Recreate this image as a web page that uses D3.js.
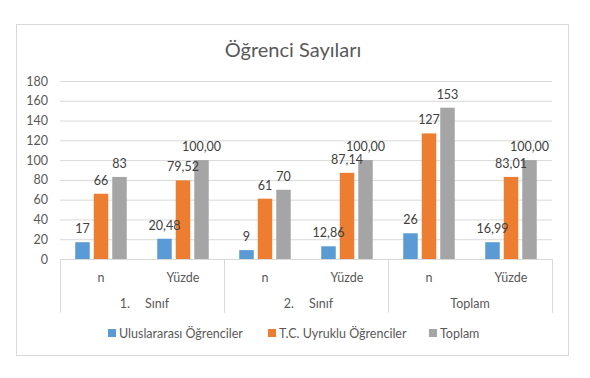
<!DOCTYPE html>
<html>
<head>
<meta charset="utf-8">
<script src="https://cdn.jsdelivr.net/npm/d3@7"></script>
<style>
  body { margin: 0; background: #fff; }
  svg { font-family: Lato, "Open Sans", sans-serif; }
</style>
</head>
<body>
<svg id="chart" width="590" height="378"></svg>
<script>
// data
const groups = ["1. Sınıf", "2. Sınıf", "Toplam"]
const subs = ["n", "Yüzde"]
const seriesNames = ["Uluslararası Öğrenciler", "T.C. Uyruklu Öğrenciler", "Toplam"]
const colors = ["#5B9BD5", "#ED7D31", "#A5A5A5"]
const intl = [17, 20.48, 9, 12.86, 26, 16.99]
const tc = [66, 79.52, 61, 87.14, 127, 83.01]
const total = [83, 100, 70, 100, 153, 100]
const yTicks = [0, 20, 40, 60, 80, 100, 120, 140, 160, 180]

const svg = d3.select("#chart")
const textColor = "#595959"
const gridColor = "#D9D9D9"

// outer frame
svg.append("rect")
  .attr("x", 16.5).attr("y", 24.5)
  .attr("width", 552).attr("height", 331)
  .attr("fill", "#fff").attr("stroke", gridColor)

svg.append("text")
  .attr("x", 293).attr("y", 57)
  .attr("text-anchor", "middle")
  .attr("font-size", 20)
  .attr("fill", textColor)
  .text("Öğrenci Sayıları")

const plotLeft = 60, plotRight = 552, plotTop = 81, plotBottom = 259

// one slot per (group, sub) pair
const slots = []
groups.forEach(g => subs.forEach(s => slots.push(g + "|" + s)))

const x = d3.scaleBand().domain(slots).range([plotLeft, plotRight])
const xg = d3.scaleBand().domain(groups).range([plotLeft, plotRight])
const xs = d3.scaleBand().domain(d3.range(3)).range([0, x.bandwidth()])
  .paddingInner(0.216).paddingOuter(0.824)
const y = d3.scaleLinear().domain([0, 180]).range([plotBottom, plotTop])

// grid
svg.append("g")
  .attr("transform", "translate(" + plotLeft + ",0)")
  .call(d3.axisLeft(y).tickValues(yTicks).tickSize(-(plotRight - plotLeft)).tickFormat(""))
  .call(g => g.select(".domain").remove())
  .selectAll("line").attr("stroke", gridColor)

// y tick labels
svg.append("g")
  .attr("transform", "translate(" + (plotLeft - 12) + ",0)")
  .call(d3.axisLeft(y).tickValues(yTicks).tickSize(0).tickPadding(0))
  .call(g => g.select(".domain").remove())
  .selectAll("text")
    .attr("font-size", 12.5)
    .attr("font-family", "Lato, sans-serif")
    .attr("fill", textColor)

// bars first, then all labels on top
const series = [intl, tc, total]
const barLayer = svg.append("g")
const labelLayer = svg.append("g")
series.forEach((vals, si) => {
  barLayer.append("g").selectAll("rect")
    .data(vals)
    .enter()
    .append("rect")
      .attr("x", (d, i) => x(slots[i]) + xs(si))
      .attr("y", d => y(d))
      .attr("width", xs.bandwidth())
      .attr("height", d => plotBottom - y(d))
      .attr("fill", colors[si])

  labelLayer.append("g").selectAll("text")
    .data(vals)
    .enter()
    .append("text")
      .attr("x", (d, i) => x(slots[i]) + xs(si) + xs.bandwidth() / 2)
      .attr("y", d => y(d) - 9)
      .attr("text-anchor", "middle")
      .attr("font-size", 12.5)
      .attr("fill", "#404040")
      .text((d, i) => subs[i % 2] == "Yüzde" ? d.toFixed(2).replace(".", ",") : d)
})

// category axis
svg.append("line")
  .attr("x1", plotLeft).attr("x2", plotRight)
  .attr("y1", plotBottom + 0.5).attr("y2", plotBottom + 0.5)
  .attr("stroke", gridColor)

const sep = [plotLeft].concat(groups.map(g => xg(g) + xg.bandwidth()))
svg.selectAll(".sep")
  .data(sep)
  .enter()
  .append("line")
    .attr("x1", d => Math.round(d) + 0.5).attr("x2", d => Math.round(d) + 0.5)
    .attr("y1", plotBottom).attr("y2", 313)
    .attr("stroke", gridColor)

svg.selectAll(".sub")
  .data(slots)
  .enter()
  .append("text")
    .attr("x", d => x(d) + x.bandwidth() / 2)
    .attr("y", 282)
    .attr("text-anchor", "middle")
    .attr("font-size", 12.5)
    .attr("fill", textColor)
    .text(d => d.split("|")[1])

// group labels, Excel spreads "1. Sınıf" apart
groups.forEach(g => {
  const cx = xg(g) + xg.bandwidth() / 2
  const parts = g.split(" ")
  if (parts.length == 2) {
    svg.append("text").attr("x", cx - 12).attr("y", 308)
      .attr("text-anchor", "end").attr("font-size", 12.5).attr("fill", textColor)
      .text(parts[0])
    svg.append("text").attr("x", cx + 3).attr("y", 308)
      .attr("font-size", 12.5).attr("fill", textColor)
      .text(parts[1])
  } else {
    svg.append("text").attr("x", cx).attr("y", 308)
      .attr("text-anchor", "middle").attr("font-size", 12.5).attr("fill", textColor)
      .text(g)
  }
})

// legend
const legendX = [108, 268, 429]
seriesNames.forEach((name, i) => {
  svg.append("rect")
    .attr("x", legendX[i]).attr("y", 329)
    .attr("width", 8).attr("height", 8)
    .attr("fill", colors[i])
  svg.append("text")
    .attr("x", legendX[i] + 11).attr("y", 337.5)
    .attr("font-size", 12.5)
    .attr("fill", textColor)
    .text(name)
})
</script>
</body>
</html>
